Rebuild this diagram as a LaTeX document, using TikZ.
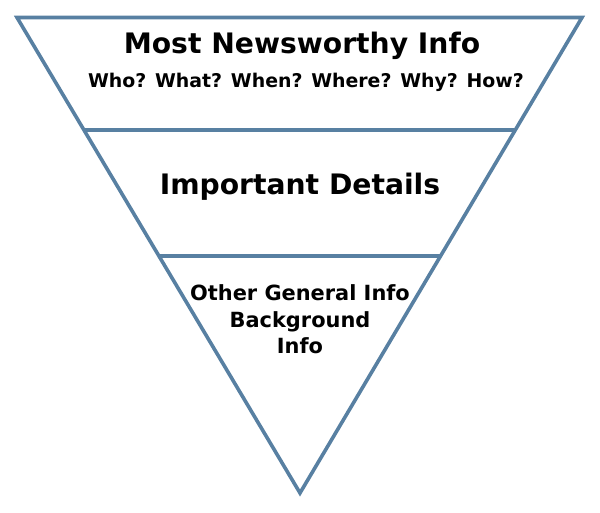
\documentclass[tikz,border=0pt]{standalone}
\usepackage{fontspec}
\setmainfont{DejaVu Sans}
\usetikzlibrary{calc,intersections}
\definecolor{edge}{RGB}{88,128,162}
\begin{document}
\begin{tikzpicture}[x=1pt,y=-1pt,
  tri/.style={draw=edge,line width=3.6pt,line join=miter},
  lbl/.style={font=\bfseries,align=center,inner sep=0pt}]
\useasboundingbox (0,0) rectangle (600,512);
\coordinate (tl) at (17,17.5);
\coordinate (tr) at (582,17.5);
\coordinate (bt) at (300,493);
\draw[tri] (tl) -- (tr) -- (bt) -- cycle;
\coordinate (a1) at ($(tl)!{(130-17.5)/(493-17.5)}!(bt)$);
\coordinate (b1) at ($(tr)!{(130-17.5)/(493-17.5)}!(bt)$);
\coordinate (a2) at ($(tl)!{(256-17.5)/(493-17.5)}!(bt)$);
\coordinate (b2) at ($(tr)!{(256-17.5)/(493-17.5)}!(bt)$);
\draw[tri] (a1) -- (b1);
\draw[tri] (a2) -- (b2);
\node[lbl,font=\bfseries\fontsize{28.2}{32}\selectfont] (t1) at (302,45.5) {Most Newsworthy Info};
\node[lbl,font=\bfseries\fontsize{18.9}{22}\selectfont] (t2) at (306,82) {Who? What? When? Where? Why? How?};
\node[lbl,font=\bfseries\fontsize{28.2}{32}\selectfont] (t3) at (300,186.5) {Important Details};
\node[lbl,font=\bfseries\fontsize{20.9}{26.5}\selectfont] (t4) at (300,319.5) {Other General Info\\Background\\Info};
\end{tikzpicture}
\end{document}
